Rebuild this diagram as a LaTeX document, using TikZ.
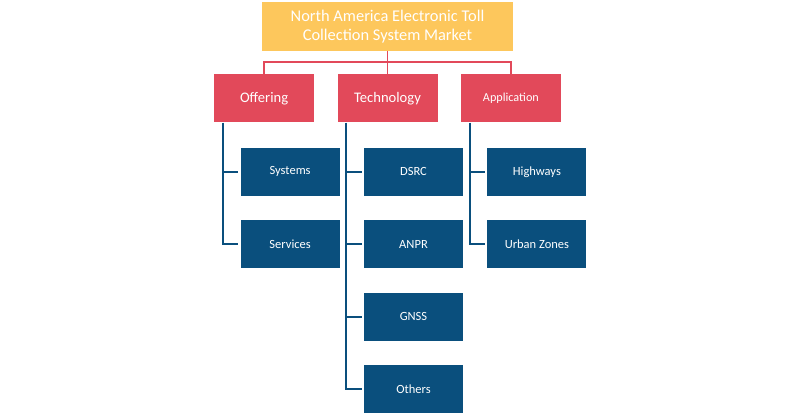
\documentclass[tikz,border=0pt]{standalone}
\usepackage{fontspec}
\setmainfont{Carlito}
\usepackage{tikz}
\usetikzlibrary{positioning, calc}
\definecolor{marketyellow}{HTML}{FDC75C}
\definecolor{segmentred}{HTML}{E2495A}
\definecolor{itemblue}{HTML}{0A4F7D}

\begin{document}
\begin{tikzpicture}[x=1pt, y=1pt, node distance=23pt,
  titlebox/.style={fill=marketyellow, text=white, minimum width=251pt, minimum height=49pt, align=center, font=\fontsize{16.4}{18.5}\selectfont, inner sep=0pt},
  catbox/.style={fill=segmentred, text=white, minimum width=100pt, minimum height=48pt, font=\fontsize{14.6}{16}\selectfont, inner sep=0pt},
  itembox/.style={fill=itemblue, text=white, minimum width=99pt, minimum height=48pt, font=\fontsize{12.5}{14}\selectfont, inner sep=0pt},
  redline/.style={draw=segmentred, line width=1.8pt},
  blueline/.style={draw=itemblue, line width=1.8pt}]

\useasboundingbox (0,0) rectangle (800,-414);

\node[titlebox] (market) at (387.5,-26.5) {North America Electronic Toll\\Collection System Market};
\node[catbox] (technology) [below=23pt of market] {Technology};
\node[catbox] (offering) [left=23pt of technology] {Offering};
\node[catbox, font=\fontsize{12.2}{14}\selectfont] (application) [right=23pt of technology] {Application};

\node[itembox] (systems) [below=25pt of offering, xshift=26pt] {Systems};
\node[itembox] (services) [below=24pt of systems] {Services};
\node[itembox] (dsrc) [below=25pt of technology, xshift=26pt] {DSRC};
\node[itembox] (anpr) [below=24pt of dsrc] {ANPR};
\node[itembox] (gnss) [below=24pt of anpr] {GNSS};
\node[itembox] (others) [below=24pt of gnss] {Others};
\node[itembox] (highways) [below=25pt of application, xshift=26pt] {Highways};
\node[itembox] (urban) [below=24pt of highways] {Urban Zones};

% market to segments
\coordinate (bus) at ($(market.south) + (0,-11)$);
\draw[redline] (market.south) -- (bus);
\draw[redline] (offering.north) |- (bus) -| (application.north);
\draw[redline] (bus) -- (technology.north);

% segment trunks
\coordinate (offtrunk) at ($(offering.south west) + (9,0)$);
\coordinate (techtrunk) at ($(technology.south west) + (9,0)$);
\coordinate (apptrunk) at ($(application.south west) + (9,0)$);

\draw[blueline] (offtrunk) |- ([xshift=-2pt]services.west);
\draw[blueline] (offtrunk |- systems.west) -- ([xshift=-2pt]systems.west);

\draw[blueline] (techtrunk) |- ([xshift=-2pt]others.west);
\draw[blueline] (techtrunk |- dsrc.west) -- ([xshift=-2pt]dsrc.west);
\draw[blueline] (techtrunk |- anpr.west) -- ([xshift=-2pt]anpr.west);
\draw[blueline] (techtrunk |- gnss.west) -- ([xshift=-2pt]gnss.west);

\draw[blueline] (apptrunk) |- ([xshift=-2pt]urban.west);
\draw[blueline] (apptrunk |- highways.west) -- ([xshift=-2pt]highways.west);

\end{tikzpicture}
\end{document}
